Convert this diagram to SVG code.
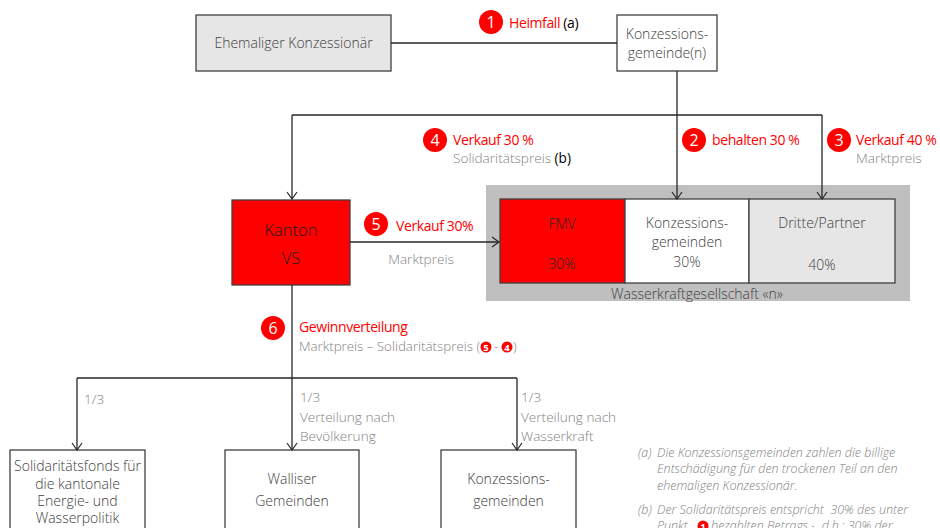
<svg xmlns="http://www.w3.org/2000/svg" width="940" height="528" viewBox="0 0 940 528">
<defs>
<marker id="arr" viewBox="0 0 12 12" markerWidth="12" markerHeight="12" refX="11" refY="6" orient="auto" markerUnits="userSpaceOnUse">
<path d="M4,1 L11,6 L4,11" fill="none" stroke="#262626" stroke-width="1.2"/>
</marker>
<style>
text{font-family:"Open Sans","Liberation Sans",sans-serif}
.box{stroke:#404040;stroke-width:1.3}
.bt{font-size:14px;font-weight:300;fill:#404040;text-anchor:middle}
.g{font-size:13.6px;font-weight:300;fill:#7f7f7f}
.r{font-size:14px;fill:#ff0000;letter-spacing:-0.4px}
.blk{fill:#000;font-weight:400}
.cn{fill:#ff0000}
.ct{font-size:16px;fill:#fff;text-anchor:middle}
.cs{font-size:9.5px;font-weight:700;fill:#fff;text-anchor:middle}
.ln{fill:none;stroke:#262626;stroke-width:1.3}
.fn{font-size:12.5px;font-weight:300;font-style:italic;fill:#7f7f7f}
</style>
</defs>
<rect width="940" height="528" fill="#fff"/>

<g id="ehemaliger">
<rect class="box" x="196" y="15" width="195" height="56" fill="#e6e6e6"/>
<text class="bt" x="293.5" y="48">Ehemaliger Konzessionär</text>
</g>

<g id="konzessionsgemeinde">
<rect class="box" x="617" y="15" width="100" height="56" fill="#fff"/>
<text class="bt" x="667" y="39">Konzessions-</text>
<text class="bt" x="667" y="58">gemeinde(n)</text>
</g>

<g id="label1">
<circle class="cn" cx="491" cy="22" r="12"/>
<text class="ct" x="491" y="28">1</text>
<text class="r" x="509" y="28">Heimfall <tspan class="blk">(a)</tspan></text>
</g>

<g id="label4">
<circle class="cn" cx="435" cy="140" r="12"/>
<text class="ct" x="435" y="146">4</text>
<text class="r" x="453" y="145">Verkauf 30 %</text>
<text class="g" x="453" y="163">Solidaritätspreis <tspan class="blk">(b)</tspan></text>
</g>

<g id="label2">
<circle class="cn" cx="694" cy="140" r="12"/>
<text class="ct" x="694" y="146">2</text>
<text class="r" x="712" y="145">behalten 30 %</text>
</g>

<g id="label3">
<circle class="cn" cx="839" cy="140" r="12"/>
<text class="ct" x="839" y="146">3</text>
<text class="r" x="856" y="145">Verkauf 40 %</text>
<text class="g" x="856" y="163">Marktpreis</text>
</g>

<g id="kanton">
<rect class="box" x="232" y="200" width="118" height="85" fill="#ff0000"/>
<text class="bt" x="291" y="236" style="font-size:16.5px;fill:#1a1a1a">Kanton</text>
<text class="bt" x="291" y="264" style="font-size:16.5px;fill:#1a1a1a">VS</text>
</g>

<g id="label5">
<circle class="cn" cx="376" cy="224" r="12"/>
<text class="ct" x="376" y="230">5</text>
<text class="r" x="396" y="231">Verkauf 30%</text>
<text class="g" x="421" y="264" text-anchor="middle">Marktpreis</text>
</g>

<g id="wasserkraftgesellschaft">
<rect x="486" y="185" width="424" height="116" fill="#bfbfbf"/>
<rect class="box" x="500" y="199" width="125" height="84" fill="#ff0000"/>
<rect class="box" x="625" y="199" width="124" height="84" fill="#fff"/>
<rect class="box" x="749" y="199" width="146" height="84" fill="#e6e6e6"/>
<text class="bt" x="562" y="229" style="fill:#262626">FMV</text>
<text class="bt" x="562" y="269" style="fill:#262626">30%</text>
<text class="bt" x="687" y="228">Konzessions-</text>
<text class="bt" x="687" y="247">gemeinden</text>
<text class="bt" x="687" y="267">30%</text>
<text class="bt" x="822" y="228">Dritte/Partner</text>
<text class="bt" x="822" y="270">40%</text>
<text class="bt" x="697" y="299">Wasserkraftgesellschaft «n»</text>
</g>

<g id="label6">
<circle class="cn" cx="273" cy="328" r="12"/>
<text class="ct" x="273" y="334">6</text>
<text class="r" x="299" y="332">Gewinnverteilung</text>
<text class="g" x="299" y="351" textLength="181" lengthAdjust="spacingAndGlyphs">Marktpreis – Solidaritätspreis (</text>
<circle class="cn" cx="486" cy="347" r="5.5"/>
<text class="cs" x="486" y="350.5">5</text>
<text class="g" x="494" y="351">-</text>
<circle class="cn" cx="507" cy="347" r="5.5"/>
<text class="cs" x="507" y="350.5">4</text>
<text class="g" x="513" y="351">)</text>
</g>

<g id="split-labels">
<text class="g" x="84" y="404">1/3</text>
<text class="g" x="300" y="402">1/3</text>
<text class="g" x="300" y="422">Verteilung nach</text>
<text class="g" x="300" y="441">Bevölkerung</text>
<text class="g" x="521" y="402">1/3</text>
<text class="g" x="521" y="422">Verteilung nach</text>
<text class="g" x="521" y="441">Wasserkraft</text>
</g>

<g id="solidaritaetsfonds">
<rect class="box" x="10" y="450" width="135" height="90" fill="#fff"/>
<text class="bt" x="77.5" y="471">Solidaritätsfonds für</text>
<text class="bt" x="77.5" y="489">die kantonale</text>
<text class="bt" x="77.5" y="506">Energie- und</text>
<text class="bt" x="77.5" y="523">Wasserpolitik</text>
</g>

<g id="walliser">
<rect class="box" x="225" y="450" width="134" height="90" fill="#fff"/>
<text class="bt" x="292" y="484">Walliser</text>
<text class="bt" x="292" y="506">Gemeinden</text>
</g>

<g id="konzessionsgemeinden-unten">
<rect class="box" x="441" y="450" width="135" height="90" fill="#fff"/>
<text class="bt" x="508.5" y="484">Konzessions-</text>
<text class="bt" x="508.5" y="506">gemeinden</text>
</g>

<g id="footnotes">
<text class="fn" x="638" y="457">(a)</text>
<text class="fn" x="657" y="457">Die Konzessionsgemeinden zahlen die billige</text>
<text class="fn" x="657" y="473">Entschädigung für den trockenen Teil an den</text>
<text class="fn" x="657" y="490">ehemaligen Konzessionär.</text>
<text class="fn" x="638" y="514">(b)</text>
<text class="fn" x="657" y="514" xml:space="preserve">Der Solidaritätspreis entspricht  30% des unter</text>
<text class="fn" x="657" y="530">Punkt</text>
<circle class="cn" cx="703" cy="526" r="5.5"/>
<text class="cs" x="703" y="529.5">1</text>
<text class="fn" x="711" y="530" xml:space="preserve">bezahlten Betrags -  d.h.: 30% der</text>
</g>

<g id="connectors">
<path class="ln" d="M391,43 H617"/>
<path class="ln" d="M677,71 V199" marker-end="url(#arr)"/>
<path class="ln" d="M292,115 H822"/>
<path class="ln" d="M292,115 V199" marker-end="url(#arr)"/>
<path class="ln" d="M822,115 V199" marker-end="url(#arr)"/>
<path class="ln" d="M350,242 H499" marker-end="url(#arr)"/>
<path class="ln" d="M292,285 V378"/>
<path class="ln" d="M77,378 H517"/>
<path class="ln" d="M77,378 V450" marker-end="url(#arr)"/>
<path class="ln" d="M292,378 V450" marker-end="url(#arr)"/>
<path class="ln" d="M517,378 V450" marker-end="url(#arr)"/>
</g>
</svg>
